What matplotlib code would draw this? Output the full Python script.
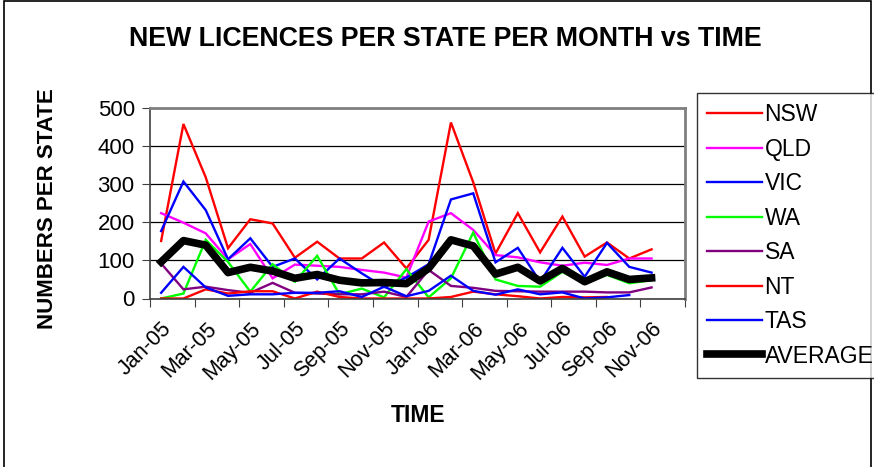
import matplotlib
matplotlib.use("Agg")
import matplotlib.pyplot as plt
from matplotlib.patches import Rectangle
from matplotlib.transforms import ScaledTranslation
import numpy as np

plt.rcParams["font.family"] = ["Liberation Sans", "DejaVu Sans"]

months = ["Jan-05", "Feb-05", "Mar-05", "Apr-05", "May-05", "Jun-05", "Jul-05", "Aug-05",
          "Sep-05", "Oct-05", "Nov-05", "Dec-05", "Jan-06", "Feb-06", "Mar-06", "Apr-06",
          "May-06", "Jun-06", "Jul-06", "Aug-06", "Sep-06", "Oct-06", "Nov-06", "Dec-06"]
nan = np.nan

nsw = [151, 458, 318, 132, 208, 197, 107, 149, 105, 105, 147, 79,
       154, 462, 305, 118, 224, 121, 215, 110, 147, 105, 129, nan]
qld = [224, 199, 171, 103, 143, 53, 89, 86, 83, 75, 68, 55,
       202, 224, 180, 114, 108, 95, 86, 94, 88, 105, 105, nan]
vic = [177, 307, 232, 103, 158, 83, 105, 50, 105, 66, 30, 55,
       90, 260, 276, 95, 133, 44, 133, 57, 146, 83, 68, nan]
wa = [0, 13, 154, 96, 18, 90, 44, 112, 11, 26, 3, 77,
      3, 53, 173, 50, 33, 31, 70, 40, 62, 40, 48, nan]
sa = [92, 24, 31, 22, 15, 41, 15, 13, 11, 11, 18, 4,
      75, 33, 28, 20, 19, 18, 18, 18, 16, 16, 29, nan]
nt = [0, 0, 24, 13, 19, 19, 0, 18, 4, 0, 0, 0,
      0, 4, 18, 11, 6, 0, 4, 3, 4, nan, nan, nan]
tas = [15, 83, 29, 7, 11, 11, 15, 15, 19, 4, 31, 6,
       20, 60, 20, 10, 24, 11, 16, 0, 3, 9, nan, nan]
average = [96, 152, 140, 68, 82, 72, 53, 63, 48, 41, 42, 39,
           79, 154, 138, 64, 82, 46, 79, 44, 70, 50, 54, nan]

series = [
    ("NSW", nsw, "#FF0000", 1.7),
    ("QLD", qld, "#FF00FF", 1.7),
    ("VIC", vic, "#0000FF", 1.7),
    ("WA", wa, "#00FF00", 1.7),
    ("SA", sa, "#800080", 1.7),
    ("NT", nt, "#FF0000", 1.7),
    ("TAS", tas, "#0000FF", 1.7),
    ("AVERAGE", average, "#000000", 5.5),
]

fig = plt.figure(figsize=(8.74, 4.67), dpi=100)
ax = fig.add_axes([150 / 874, 1 - 298.5 / 467, 535 / 874, 190.5 / 467])

x = np.arange(len(months))
for name, vals, color, lw in series:
    ax.plot(x, vals, color=color, lw=lw, label=name,
            solid_joinstyle="miter" if lw < 3 else "round")

ax.set_xlim(-0.5, len(months) - 0.5)
ax.set_ylim(0, 500)
ax.set_yticks(range(0, 501, 100))
ax.yaxis.grid(True, color="black", lw=0.9)
ax.set_axisbelow(True)

# ticks between categories, labels on every second month
ax.set_xticks(np.arange(-0.5, len(months), 2))
ax.set_xticklabels([])
ax.set_xticks(x[::2], minor=True)
ax.set_xticklabels(months[::2], minor=True, rotation=45, ha="right", va="top",
                   rotation_mode="anchor", fontsize=15.5)
shift = ScaledTranslation(-4 / 100, 0, fig.dpi_scale_trans)
for lbl in ax.get_xticklabels(minor=True):
    lbl.set_transform(lbl.get_transform() + shift)
ax.tick_params(axis="x", which="minor", length=0, pad=14)
ax.tick_params(axis="x", which="major", length=6, color="#404040")
ax.tick_params(axis="y", length=6, labelsize=16, color="#404040", pad=5)

for side in ["top", "right"]:
    ax.spines[side].set_color("#808080")
    ax.spines[side].set_linewidth(2)
for side in ["left", "bottom"]:
    ax.spines[side].set_color("#404040")
    ax.spines[side].set_linewidth(1.2)

fig.text(0.509, 1 - 39 / 467, "NEW LICENCES PER STATE PER MONTH vs TIME",
         ha="center", va="center", fontsize=19.3, fontweight="bold")
fig.text(418 / 874, 1 - 415 / 467, "TIME", ha="center", va="center",
         fontsize=16.5, fontweight="bold")
fig.text(48 / 874, 1 - 209 / 467, "NUMBERS PER STATE", ha="center", va="center",
         rotation=90, fontsize=16, fontweight="bold")

leg = fig.legend(loc="upper left", bbox_to_anchor=(697 / 874, 1 - 93 / 467),
                 fontsize=16.5, frameon=True, fancybox=False, edgecolor="black",
                 handlelength=2.4, handletextpad=0.1, labelspacing=0.5,
                 borderpad=0.45, borderaxespad=0)
leg.get_frame().set_linewidth(1)

fig.patches.append(Rectangle((4 / 874, -0.1), 867 / 874, 1.097, transform=fig.transFigure,
                             fill=False, edgecolor="black", lw=1.2))

fig.savefig("out.png", dpi=100)
